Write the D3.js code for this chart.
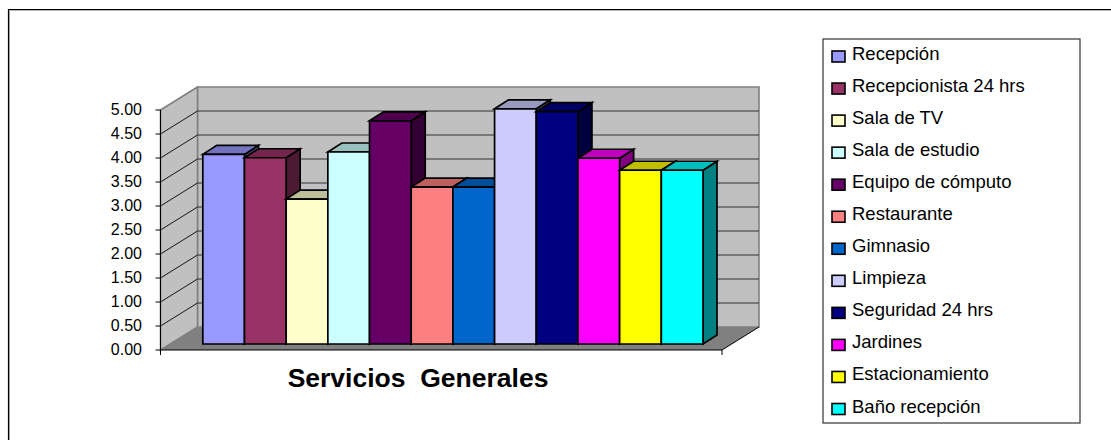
<!DOCTYPE html>
<html><head><meta charset="utf-8">
<script src="https://cdn.jsdelivr.net/npm/d3@7"></script>
<style>html,body{margin:0;padding:0;background:#fff}svg{display:block}text{font-family:"Liberation Sans",Arial,sans-serif;fill:#000}</style>
</head><body><svg id="c" width="1111" height="440"></svg>
<script>
const categories=["Recepción","Recepcionista 24 hrs","Sala de TV","Sala de estudio","Equipo de cómputo","Restaurante","Gimnasio","Limpieza","Seguridad 24 hrs","Jardines","Estacionamiento","Baño recepción"];
const values=[3.95,3.88,3.02,4.00,4.65,3.27,3.27,4.90,4.84,3.87,3.62,3.62];
const colors=["#9999FF","#993366","#FFFFCC","#CCFFFF","#660066","#FF8080","#0066CC","#CCCCFF","#000080","#FF00FF","#FFFF00","#00FFFF"];
const tickValues=[0,0.5,1,1.5,2,2.5,3,3.5,4,4.5,5];
const title="Servicios  Generales";

const svg=d3.select("#c");
// outer frame: only the top and left edges fall inside the picture
svg.append("path").attr("d","M9.5,440V10.5H1111").attr("fill","none").attr("stroke","#b4b4b4").attr("stroke-width",1);
svg.append("path").attr("d","M8.5,440V9.5H1111").attr("fill","none").attr("stroke","#000").attr("stroke-width",1.2);

const y=d3.scaleLinear().domain([0,5]).range([350,110]);
const barH=d3.scaleLinear().domain([0,5]).range([0,240]);
const x=d3.scaleBand().domain(categories).range([202.8,703]);
const frontL=160.5,frontR=722,dx=37,dy=-23;
const bx=14,by=-9,barBase=344;

const poly=(pts,fill,stroke,w)=>svg.append("polygon").attr("points",pts.map(p=>p.join(",")).join(" ")).attr("fill",fill).attr("stroke",stroke||"none").attr("stroke-width",w||0);
poly([[frontL+dx,y(5)+dy],[frontR+dx,y(5)+dy],[frontR+dx,y(0)+dy],[frontL+dx,y(0)+dy]],"#C0C0C0","#808080",1.6);
poly([[frontL,y(5)],[frontL+dx,y(5)+dy],[frontL+dx,y(0)+dy],[frontL,y(0)]],"#C0C0C0","#808080",1.6);
poly([[frontL,y(0)],[frontL+dx,y(0)+dy],[frontR+dx,y(0)+dy],[frontR,y(0)]],"#808080");
tickValues.slice(1,-1).forEach(t=>{
  const yy=y(t);
  svg.append("path").attr("d",`M${frontL},${yy}L${frontL+dx},${yy+dy}`).attr("fill","none").attr("stroke","#000").attr("stroke-width",0.9);
  svg.append("path").attr("d",`M${frontL+dx},${yy+dy}H${frontR+dx}`).attr("fill","none").attr("stroke","#333").attr("stroke-width",1.2);
});
svg.append("path").attr("d",`M${frontL},${y(5)}V${y(0)}`).attr("stroke","#000").attr("fill","none");
svg.append("path").attr("d",`M${frontL},${y(0)}H${frontR}M${frontL},${y(0)}V${y(0)+5}M${frontR},${y(0)}V${y(0)+5}M${frontR},${y(0)}L${frontR+dx},${y(0)+dy}`).attr("stroke","#000").attr("fill","none");
tickValues.forEach(t=>{
  svg.append("line").attr("x1",frontL-5).attr("x2",frontL).attr("y1",y(t)).attr("y2",y(t)).attr("stroke","#000");
  svg.append("text").attr("x",142).attr("y",y(t)+4.5).attr("text-anchor","end").attr("font-size",16).text(t.toFixed(2));
});
categories.forEach((c,i)=>{
  const l=x(c),w=x.bandwidth(),r=l+w,b=barBase,t=b-barH(values[i]);
  const col=d3.rgb(colors[i]);
  const dark=d3.rgb(col.r*.5,col.g*.5,col.b*.5)+"",mid=d3.rgb(col.r*.75,col.g*.75,col.b*.75)+"";
  poly([[r,t],[r+bx,t+by],[r+bx,b+by],[r,b]],dark,"#000",1.7);
  poly([[l,t],[l+bx,t+by],[r+bx,t+by],[r,t]],mid,"#000",1.7);
  poly([[l,t],[r,t],[r,b],[l,b]],colors[i],"#000",1.7);
});
svg.append("text").attr("x",418).attr("y",387).attr("text-anchor","middle").attr("font-size",26.5).attr("font-weight","bold").style("white-space","pre").text(title);
svg.append("rect").attr("x",823).attr("y",39).attr("width",257).attr("height",384).attr("fill","#fff").attr("stroke","#333").attr("stroke-width",1.2);
const ly=d3.scalePoint().domain(categories).range([56.5,409]);
categories.forEach((c,i)=>{
  svg.append("rect").attr("x",832).attr("y",ly(c)-5.5).attr("width",13).attr("height",11).attr("fill",colors[i]).attr("stroke","#000").attr("stroke-width",1.6);
  svg.append("text").attr("x",852).attr("y",ly(c)+3.5).attr("font-size",18.5).text(c);
});
</script></body></html>
